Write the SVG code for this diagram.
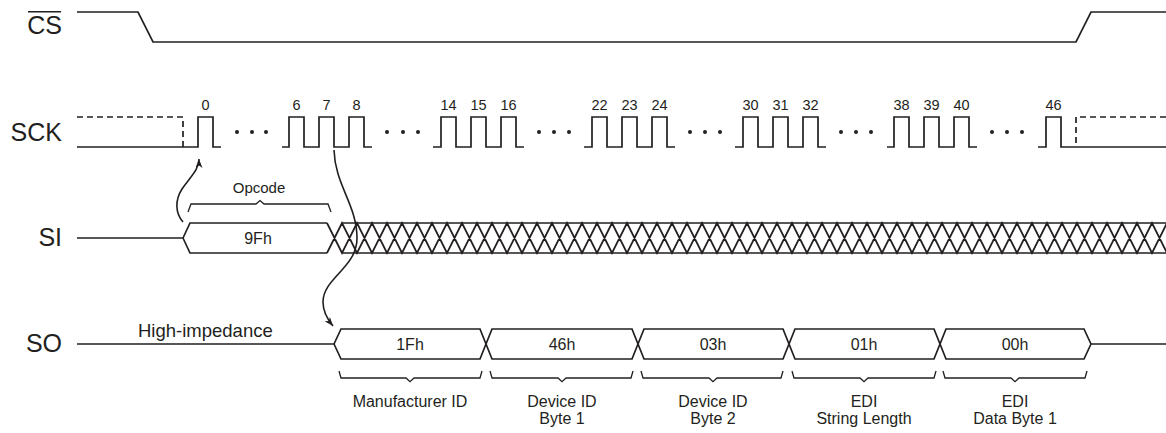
<svg xmlns="http://www.w3.org/2000/svg" width="1166" height="433" viewBox="0 0 1166 433">
<style>
text{font-family:"Liberation Sans",Arial,sans-serif;fill:#231f20}
.lbl{font-size:25px;text-anchor:end}
.num{font-size:14.5px;text-anchor:middle}
.val{font-size:16px;text-anchor:middle}
.desc{font-size:16px;text-anchor:middle}
.sig{fill:none;stroke:#231f20;stroke-width:1.7;stroke-linejoin:miter}
.dash{fill:none;stroke:#231f20;stroke-width:1.7;stroke-dasharray:6 4}
.brace{fill:none;stroke:#231f20;stroke-width:1.3}
.conn{fill:none;stroke:#231f20;stroke-width:1.6}
.dot{fill:#231f20}
</style>
<defs>
<marker id="ah" viewBox="0 0 9 7" refX="9" refY="3.5" markerWidth="9" markerHeight="7" markerUnits="userSpaceOnUse" orient="auto">
<path d="M0,0 L9,3.5 L0,7 L2.5,3.5 z" fill="#231f20"/>
</marker>
</defs>

<g id="sig-cs">
<text class="lbl" x="62" y="34">CS</text>
<line x1="28" y1="11.7" x2="61" y2="11.7" stroke="#231f20" stroke-width="1.4"/>
<path class="sig" d="M77,12 H138 L153,42 H1076 L1091,12 H1166"/>
</g>

<g id="sig-sck">
<text class="lbl" x="62" y="141">SCK</text>
<path class="dash" d="M77,117 H183 V147"/>
<path class="dash" d="M1166,117 H1076 V147"/>
<path class="sig" d="M77,147 H198 V117 H213 V147 H221
M282,147 H289 V117 H304 V147 H319 V117 H334 V147 H349 V117 H364 V147 H372
M433,147 H441 V117 H456 V147 H471 V117 H486 V147 H501 V117 H516 V147 H524
M584,147 H592 V117 H607 V147 H622 V117 H637 V147 H652 V117 H667 V147 H675
M735,147 H743 V117 H758 V147 H773 V117 H788 V147 H803 V117 H818 V147 H826
M887,147 H894 V117 H909 V147 H924 V117 H939 V147 H954 V117 H969 V147 H977
M1038,147 H1046 V117 H1061 V147 H1166"/>
<g class="dot">
<circle cx="237" cy="132" r="2"/><circle cx="252" cy="132" r="2"/><circle cx="266" cy="132" r="2"/>
<circle cx="387" cy="132" r="2"/><circle cx="403" cy="132" r="2"/><circle cx="418" cy="132" r="2"/>
<circle cx="539" cy="132" r="2"/><circle cx="554" cy="132" r="2"/><circle cx="569" cy="132" r="2"/>
<circle cx="690" cy="132" r="2"/><circle cx="705" cy="132" r="2"/><circle cx="720" cy="132" r="2"/>
<circle cx="841" cy="132" r="2"/><circle cx="856" cy="132" r="2"/><circle cx="871" cy="132" r="2"/>
<circle cx="992" cy="132" r="2"/><circle cx="1007" cy="132" r="2"/><circle cx="1022" cy="132" r="2"/>
</g>
<text class="num" x="205.5" y="110">0</text>
<text class="num" x="296.5" y="110">6</text>
<text class="num" x="326.5" y="110">7</text>
<text class="num" x="356.5" y="110">8</text>
<text class="num" x="448.5" y="110">14</text>
<text class="num" x="478.5" y="110">15</text>
<text class="num" x="508.5" y="110">16</text>
<text class="num" x="599.5" y="110">22</text>
<text class="num" x="629.5" y="110">23</text>
<text class="num" x="659.5" y="110">24</text>
<text class="num" x="750.5" y="110">30</text>
<text class="num" x="780.5" y="110">31</text>
<text class="num" x="810.5" y="110">32</text>
<text class="num" x="901.5" y="110">38</text>
<text class="num" x="931.5" y="110">39</text>
<text class="num" x="961.5" y="110">40</text>
<text class="num" x="1053.5" y="110">46</text>
</g>

<g id="sig-si">
<text class="lbl" x="62" y="246">SI</text>
<path class="sig" d="M77,238 H183 L190,223 H327 M183,238 L190,253 H327 M342,223 H1166 M342,253 H1166"/>
<path class="sig" d="M327,223 l15,30 l15,-30 l15,30 l15,-30 l15,30 l15,-30 l15,30 l15,-30 l15,30 l15,-30 l15,30 l15,-30 l15,30 l15,-30 l15,30 l15,-30 l15,30 l15,-30 l15,30 l15,-30 l15,30 l15,-30 l15,30 l15,-30 l15,30 l15,-30 l15,30 l15,-30 l15,30 l15,-30 l15,30 l15,-30 l15,30 l15,-30 l15,30 l15,-30 l15,30 l15,-30 l15,30 l15,-30 l15,30 l15,-30 l15,30 l15,-30 l15,30 l15,-30 l15,30 l15,-30 l15,30 l15,-30 l15,30 l15,-30 l15,30 l15,-30 l15,30 l15,-30 l15,30 l15,-30 l15,30 l15,-30
M327,253 l15,-30 l15,30 l15,-30 l15,30 l15,-30 l15,30 l15,-30 l15,30 l15,-30 l15,30 l15,-30 l15,30 l15,-30 l15,30 l15,-30 l15,30 l15,-30 l15,30 l15,-30 l15,30 l15,-30 l15,30 l15,-30 l15,30 l15,-30 l15,30 l15,-30 l15,30 l15,-30 l15,30 l15,-30 l15,30 l15,-30 l15,30 l15,-30 l15,30 l15,-30 l15,30 l15,-30 l15,30 l15,-30 l15,30 l15,-30 l15,30 l15,-30 l15,30 l15,-30 l15,30 l15,-30 l15,30 l15,-30 l15,30 l15,-30 l15,30 l15,-30 l15,30 l15,-30 l15,30 l15,-30 l15,30"/>
<text class="val" x="258" y="244">9Fh</text>
<path class="brace" d="M188,212 L191,204 H256 L260,200.5 L264,204 H328 L331,212"/>
<text x="259" y="193" style="font-size:15px;text-anchor:middle">Opcode</text>
</g>

<g id="sig-so">
<text class="lbl" x="62" y="352">SO</text>
<text x="138" y="336.5" style="font-size:18.5px">High-impedance</text>
<path class="sig" d="M77,344 H334 L341,329 H480 L486,344 L492,329 H632 L638,344 L644,329 H783 L789,344 L795,329 H934 L940,344 L946,329 H1084 L1091,344 H1166
M334,344 L341,359 H480 L486,344 L492,359 H632 L638,344 L644,359 H783 L789,344 L795,359 H934 L940,344 L946,359 H1084 L1091,344"/>
<text class="val" x="410" y="350">1Fh</text>
<text class="val" x="562" y="350">46h</text>
<text class="val" x="713" y="350">03h</text>
<text class="val" x="864" y="350">01h</text>
<text class="val" x="1015" y="350">00h</text>
<path class="brace" d="M339,371 L341,378 H406 L410,381.7 L414,378 H480 L482,371"/>
<path class="brace" d="M490,371 L492,378 H558 L562,381.7 L566,378 H631 L633,371"/>
<path class="brace" d="M641,371 L643,378 H709 L713,381.7 L717,378 H781 L783,371"/>
<path class="brace" d="M792,371 L794,378 H860 L864,381.7 L868,378 H934 L936,371"/>
<path class="brace" d="M943,371 L945,378 H1011 L1015,381.7 L1019,378 H1085 L1087,371"/>
<text class="desc" x="410" y="407">Manufacturer ID</text>
<text class="desc" x="562" y="407">Device ID</text>
<text class="desc" x="562" y="424">Byte 1</text>
<text class="desc" x="713" y="407">Device ID</text>
<text class="desc" x="713" y="424">Byte 2</text>
<text class="desc" x="864" y="407">EDI</text>
<text class="desc" x="864" y="424">String Length</text>
<text class="desc" x="1015" y="407">EDI</text>
<text class="desc" x="1015" y="424">Data Byte 1</text>
</g>

<g id="connectors">
<path class="conn" d="M183,222 C175,213 175,200 182,189 C190,177 199,170 199,159" marker-end="url(#ah)"/>
<path class="conn" d="M334,150 C335,185 357,205 357,238 C357,268 323,278 323,302 C323,313 328,320 333,326" marker-end="url(#ah)"/>
</g>
</svg>
